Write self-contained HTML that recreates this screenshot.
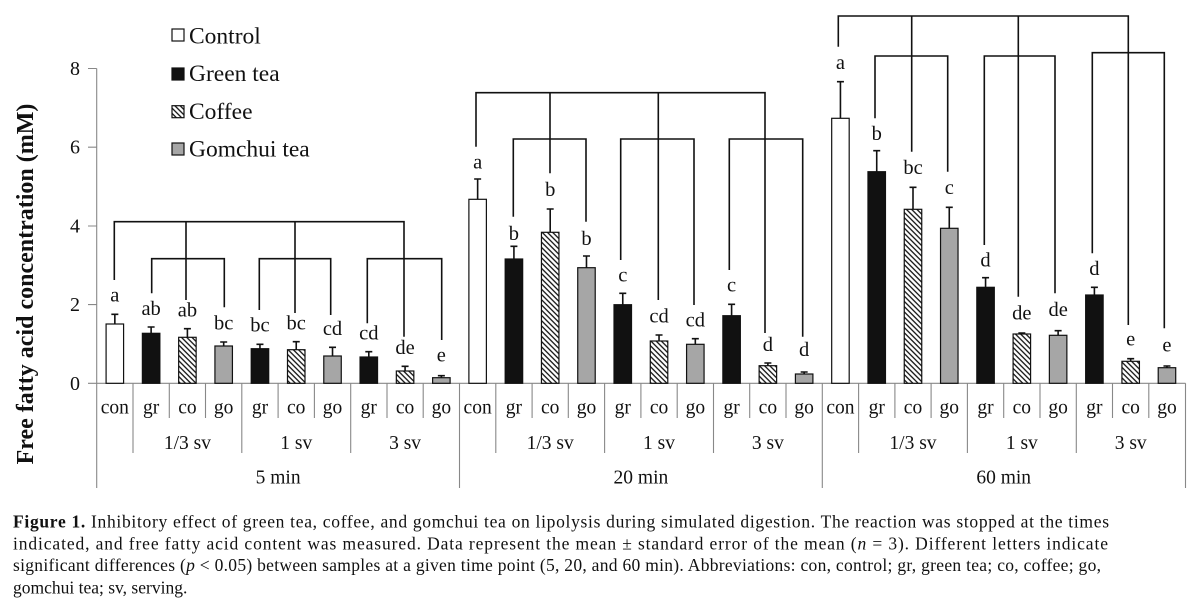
<!DOCTYPE html>
<html>
<head>
<meta charset="utf-8">
<style>
html,body{margin:0;padding:0;background:#fff;}
svg{display:block;font-family:"Liberation Serif","Times New Roman",serif;}
text,tspan{font-family:"Liberation Serif","Times New Roman",serif;}
text{fill:#111;}
</style>
</head>
<body>
<svg width="1200" height="608" viewBox="0 0 1200 608" xmlns="http://www.w3.org/2000/svg" font-family="Liberation Serif, serif">
<defs>
<pattern id="h" width="3.7" height="3.7" patternUnits="userSpaceOnUse" patternTransform="rotate(-45)">
<rect width="3.7" height="3.7" fill="#fff"/>
<line x1="0.8" y1="0" x2="0.8" y2="3.7" stroke="#111" stroke-width="1.3"/>
</pattern>
</defs>

<!-- Y axis title -->
<text transform="translate(33,284) rotate(-90)" text-anchor="middle" font-size="24" font-weight="bold" font-family="Liberation Serif, serif">Free fatty acid concentration (mM)</text>

<!-- axes -->
<g stroke="#888" stroke-width="1.1" fill="none">
<path d="M96.7 68.5 V488"/>
<path d="M88 68.5 H96.7 M88 147.2 H96.7 M88 226 H96.7 M88 304.6 H96.7"/>
<path d="M88 383.3 H1185.5"/>
<path d="M459.5 383.3 V488 M822.3 383.3 V488 M1185.5 383.3 V488"/>
<path d="M133 383.3 V453 M241.8 383.3 V453 M350.7 383.3 V453
M495.8 383.3 V453 M604.6 383.3 V453 M713.5 383.3 V453
M858.6 383.3 V453 M967.4 383.3 V453 M1076.3 383.3 V453"/>
<path d="M169.3 383.3 V418 M205.5 383.3 V418 M278.1 383.3 V418 M314.4 383.3 V418 M387 383.3 V418 M423.2 383.3 V418
M532.1 383.3 V418 M568.3 383.3 V418 M640.9 383.3 V418 M677.2 383.3 V418 M749.7 383.3 V418 M786 383.3 V418
M894.9 383.3 V418 M931.1 383.3 V418 M1003.7 383.3 V418 M1040 383.3 V418 M1112.5 383.3 V418 M1148.8 383.3 V418"/>
</g>

<!-- tick labels -->
<g font-size="20" text-anchor="end" font-family="Liberation Serif, serif">
<text x="80" y="75">8</text>
<text x="80" y="153.7">6</text>
<text x="80" y="232.5">4</text>
<text x="80" y="311.1">2</text>
<text x="80" y="389.8">0</text>
</g>

<!-- bars -->
<g stroke="#111" stroke-width="1.2">
<rect x="106.09" y="324" width="17.5" height="59.3" fill="#fff"/>
<rect x="142.37" y="333.3" width="17.5" height="50" fill="#111"/>
<rect x="178.65" y="337.3" width="17.5" height="46" fill="url(#h)"/>
<rect x="214.93" y="346" width="17.5" height="37.3" fill="#a6a6a6"/>
<rect x="251.21" y="348.7" width="17.5" height="34.6" fill="#111"/>
<rect x="287.49" y="349.7" width="17.5" height="33.6" fill="url(#h)"/>
<rect x="323.77" y="356" width="17.5" height="27.3" fill="#a6a6a6"/>
<rect x="360.05" y="357" width="17.5" height="26.3" fill="#111"/>
<rect x="396.33" y="371" width="17.5" height="12.3" fill="url(#h)"/>
<rect x="432.61" y="377.7" width="17.5" height="5.6" fill="#a6a6a6"/>

<rect x="468.89" y="199.3" width="17.5" height="184" fill="#fff"/>
<rect x="505.17" y="259" width="17.5" height="124.3" fill="#111"/>
<rect x="541.45" y="232.3" width="17.5" height="151" fill="url(#h)"/>
<rect x="577.73" y="267.7" width="17.5" height="115.6" fill="#a6a6a6"/>
<rect x="614.01" y="304.7" width="17.5" height="78.6" fill="#111"/>
<rect x="650.29" y="341" width="17.5" height="42.3" fill="url(#h)"/>
<rect x="686.57" y="344.3" width="17.5" height="39" fill="#a6a6a6"/>
<rect x="722.85" y="315.7" width="17.5" height="67.6" fill="#111"/>
<rect x="759.13" y="365.7" width="17.5" height="17.6" fill="url(#h)"/>
<rect x="795.41" y="374" width="17.5" height="9.3" fill="#a6a6a6"/>

<rect x="831.69" y="118.3" width="17.5" height="265" fill="#fff"/>
<rect x="867.97" y="171.7" width="17.5" height="211.6" fill="#111"/>
<rect x="904.25" y="209.3" width="17.5" height="174" fill="url(#h)"/>
<rect x="940.53" y="228.3" width="17.5" height="155" fill="#a6a6a6"/>
<rect x="976.81" y="287.3" width="17.5" height="96" fill="#111"/>
<rect x="1013.09" y="334" width="17.5" height="49.3" fill="url(#h)"/>
<rect x="1049.37" y="335.3" width="17.5" height="48" fill="#a6a6a6"/>
<rect x="1085.65" y="295" width="17.5" height="88.3" fill="#111"/>
<rect x="1121.93" y="361.3" width="17.5" height="22" fill="url(#h)"/>
<rect x="1158.21" y="367.7" width="17.5" height="15.6" fill="#a6a6a6"/>
</g>

<!-- error bars -->
<g stroke="#111" stroke-width="1.6" fill="none">
<path d="M114.84 324 V314.3 M111.34 314.3 H118.34
M151.12 333.3 V327 M147.62 327 H154.62
M187.4 337.3 V328.7 M183.9 328.7 H190.9
M223.68 346 V342 M220.18 342 H227.18
M259.96 348.7 V344.3 M256.46 344.3 H263.46
M296.24 349.7 V341.7 M292.74 341.7 H299.74
M332.52 356 V347.3 M329.02 347.3 H336.02
M368.8 357 V351.7 M365.3 351.7 H372.3
M405.08 371 V366.3 M401.58 366.3 H408.58
M441.36 377.7 V375.7 M437.86 375.7 H444.86"/>
<path d="M477.64 199.3 V179 M474.14 179 H481.14
M513.92 259 V246.3 M510.42 246.3 H517.42
M550.2 232.3 V209 M546.7 209 H553.7
M586.48 267.7 V256 M582.98 256 H589.98
M622.76 304.7 V293.3 M619.26 293.3 H626.26
M659.04 341 V335 M655.54 335 H662.54
M695.32 344.3 V338.7 M691.82 338.7 H698.82
M731.6 315.7 V304.3 M728.1 304.3 H735.1
M767.88 365.7 V363 M764.38 363 H771.38
M804.16 374 V372 M800.66 372 H807.66"/>
<path d="M840.44 118.3 V81.7 M836.94 81.7 H843.94
M876.72 171.7 V150.7 M873.22 150.7 H880.22
M913 209.3 V187.3 M909.5 187.3 H916.5
M949.28 228.3 V207.3 M945.78 207.3 H952.78
M985.56 287.3 V277.7 M982.06 277.7 H989.06
M1021.84 334 V333 M1018.34 333 H1025.34
M1058.12 335.3 V330.7 M1054.62 330.7 H1061.62
M1094.4 295 V287.3 M1090.9 287.3 H1097.9
M1130.68 361.3 V358.7 M1127.18 358.7 H1134.18
M1166.96 367.7 V366 M1163.46 366 H1170.46"/>
</g>

<!-- brackets -->
<g stroke="#111" stroke-width="1.6" fill="none">
<path d="M114.3 280 V221.7 H404 V336.7 M186 221.7 V300 M295 221.7 V313
M151.7 293.3 V258.7 H224.3 V307.3
M259.3 310 V258.7 H330.7 V315
M367.3 323.3 V258.7 H441.7 V340"/>
<path d="M476 146.7 V92.7 H765 V333 M550 92.7 V173.3 M658.3 92.7 V300
M513.3 216.7 V139 H586 V221.7
M620.7 260 V139 H694 V305
M729.3 270 V139 H802.7 V336.7"/>
<path d="M838.3 46.7 V16 H1128.3 V325 M911.7 16 V151.7 M1018.3 16 V296.7
M875 118.3 V56 H947.7 V171.7
M984.3 245 V56 H1055 V293.3
M1092.3 253.3 V52.7 H1164.3 V328.3"/>
</g>

<!-- significance letters -->
<g font-size="20.5" text-anchor="middle" font-family="Liberation Serif, serif">
<text x="114.84" y="301.7">a</text>
<text x="151.12" y="315">ab</text>
<text x="187.4" y="316.7">ab</text>
<text x="223.68" y="329.3">bc</text>
<text x="259.96" y="331.7">bc</text>
<text x="296.24" y="329.3">bc</text>
<text x="332.52" y="335">cd</text>
<text x="368.8" y="339.3">cd</text>
<text x="405.08" y="354">de</text>
<text x="441.36" y="361.7">e</text>

<text x="477.64" y="168.3">a</text>
<text x="513.92" y="240">b</text>
<text x="550.2" y="196">b</text>
<text x="586.48" y="245">b</text>
<text x="622.76" y="281.7">c</text>
<text x="659.04" y="322.3">cd</text>
<text x="695.32" y="326.7">cd</text>
<text x="731.6" y="291.7">c</text>
<text x="767.88" y="351">d</text>
<text x="804.16" y="356">d</text>

<text x="840.44" y="69">a</text>
<text x="876.72" y="140">b</text>
<text x="913" y="174">bc</text>
<text x="949.28" y="194">c</text>
<text x="985.56" y="266.7">d</text>
<text x="1021.84" y="319.3">de</text>
<text x="1058.12" y="316">de</text>
<text x="1094.4" y="275">d</text>
<text x="1130.68" y="345.7">e</text>
<text x="1166.96" y="351.7">e</text>
</g>

<!-- category labels -->
<g font-size="19.5" text-anchor="middle" font-family="Liberation Serif, serif">
<text x="114.84" y="413.5">con</text>
<text x="151.12" y="413.5">gr</text>
<text x="187.4" y="413.5">co</text>
<text x="223.68" y="413.5">go</text>
<text x="259.96" y="413.5">gr</text>
<text x="296.24" y="413.5">co</text>
<text x="332.52" y="413.5">go</text>
<text x="368.8" y="413.5">gr</text>
<text x="405.08" y="413.5">co</text>
<text x="441.36" y="413.5">go</text>

<text x="477.64" y="413.5">con</text>
<text x="513.92" y="413.5">gr</text>
<text x="550.2" y="413.5">co</text>
<text x="586.48" y="413.5">go</text>
<text x="622.76" y="413.5">gr</text>
<text x="659.04" y="413.5">co</text>
<text x="695.32" y="413.5">go</text>
<text x="731.6" y="413.5">gr</text>
<text x="767.88" y="413.5">co</text>
<text x="804.16" y="413.5">go</text>

<text x="840.44" y="413.5">con</text>
<text x="876.72" y="413.5">gr</text>
<text x="913" y="413.5">co</text>
<text x="949.28" y="413.5">go</text>
<text x="985.56" y="413.5">gr</text>
<text x="1021.84" y="413.5">co</text>
<text x="1058.12" y="413.5">go</text>
<text x="1094.4" y="413.5">gr</text>
<text x="1130.68" y="413.5">co</text>
<text x="1166.96" y="413.5">go</text>

<text x="187.4" y="449">1/3 sv</text>
<text x="296.24" y="449">1 sv</text>
<text x="405.08" y="449">3 sv</text>
<text x="550.2" y="449">1/3 sv</text>
<text x="659.04" y="449">1 sv</text>
<text x="767.88" y="449">3 sv</text>
<text x="913" y="449">1/3 sv</text>
<text x="1021.84" y="449">1 sv</text>
<text x="1130.68" y="449">3 sv</text>

<text x="278.1" y="483.5">5 min</text>
<text x="640.9" y="483.5">20 min</text>
<text x="1003.7" y="483.5">60 min</text>
</g>

<!-- legend -->
<g stroke="#111" stroke-width="1.2">
<rect x="172" y="29" width="12" height="12" fill="#fff"/>
<rect x="172" y="68" width="12" height="12" fill="#111"/>
<rect x="172" y="105.7" width="12" height="12" fill="url(#h)"/>
<rect x="172" y="143" width="12" height="12" fill="#a6a6a6"/>
</g>
<g font-size="23.5" font-family="Liberation Serif, serif">
<text x="189" y="43.3">Control</text>
<text x="189" y="81">Green tea</text>
<text x="189" y="119">Coffee</text>
<text x="189" y="156.7">Gomchui tea</text>
</g>

<!-- caption -->
<g font-size="17.5" font-family="Liberation Serif, serif">
<text x="13" y="527.3" textLength="1096" lengthAdjust="spacing"><tspan font-weight="bold">Figure 1.</tspan> Inhibitory effect of green tea, coffee, and gomchui tea on lipolysis during simulated digestion. The reaction was stopped at the times</text>
<text x="13" y="549.3" textLength="1095" lengthAdjust="spacing">indicated, and free fatty acid content was measured. Data represent the mean ± standard error of the mean (<tspan font-style="italic">n</tspan> = 3). Different letters indicate</text>
<text x="13" y="571" textLength="1088" lengthAdjust="spacing">significant differences (<tspan font-style="italic">p</tspan> &lt; 0.05) between samples at a given time point (5, 20, and 60 min). Abbreviations: con, control; gr, green tea; co, coffee; go,</text>
<text x="13" y="593.3">gomchui tea; sv, serving.</text>
</g>
</svg>
</body>
</html>
